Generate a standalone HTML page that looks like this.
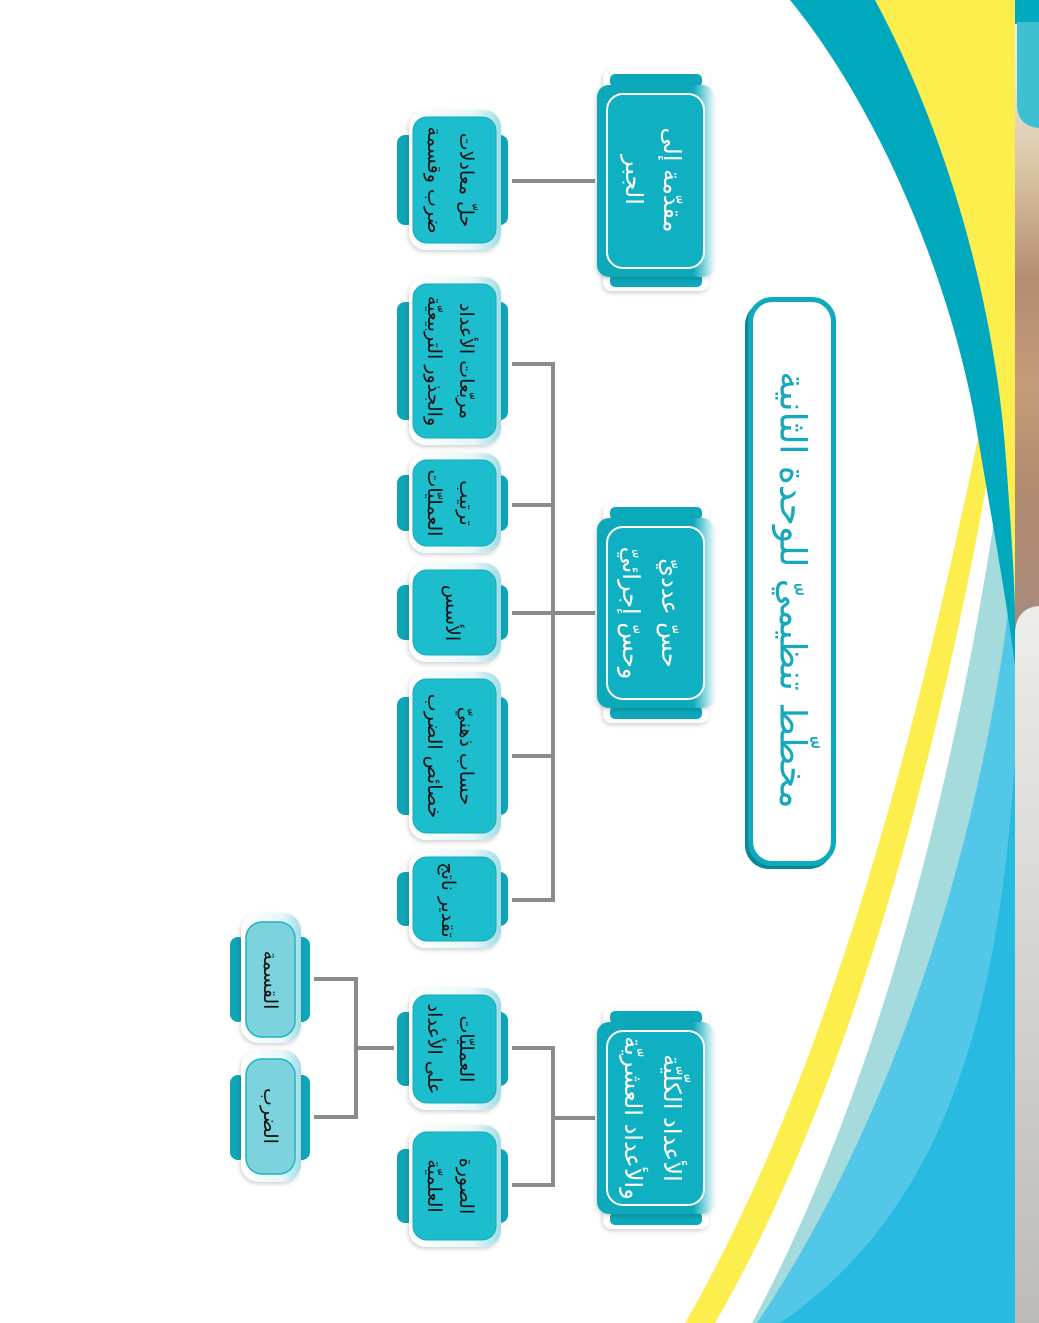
<!DOCTYPE html>
<html><head><meta charset="utf-8">
<style>
html,body{margin:0;padding:0;background:#fff;}
svg{display:block;}
text{font-family:"DejaVu Sans","Liberation Sans",sans-serif;}
</style></head>
<body>
<svg width="1039" height="1323" viewBox="0 0 1039 1323" xmlns="http://www.w3.org/2000/svg">
<defs>
<linearGradient id="gray" x1="0" y1="0" x2="0" y2="1">
<stop offset="0" stop-color="#ededea"/><stop offset="1" stop-color="#bcbbb7"/>
</linearGradient>
<linearGradient id="photo" x1="0" y1="0" x2="0" y2="1">
<stop offset="0" stop-color="#e8e0d0"/><stop offset="0.15" stop-color="#d9c4a4"/>
<stop offset="0.35" stop-color="#b48c74"/><stop offset="0.55" stop-color="#c49c78"/>
<stop offset="0.75" stop-color="#b08a70"/><stop offset="1" stop-color="#a88a7c"/>
</linearGradient>
<linearGradient id="mainG" x1="0" y1="0" x2="1" y2="0">
<stop offset="0" stop-color="#0aa8ba"/><stop offset="0.82" stop-color="#0aa8ba"/>
<stop offset="1" stop-color="#eaf9fb"/>
</linearGradient>
<linearGradient id="rim" x1="0" y1="0" x2="1" y2="0">
<stop offset="0" stop-color="#ffffff"/><stop offset="0.7" stop-color="#e6f7f9"/>
<stop offset="1" stop-color="#9edde5"/>
</linearGradient>
<filter id="sh" x="-20%" y="-20%" width="140%" height="140%">
<feDropShadow dx="-1" dy="2" stdDeviation="2" flood-color="#000" flood-opacity="0.18"/>
</filter>
</defs>

<!-- background stripes -->
<path d="M1000,330 C950,580 860,1020 685,1323 L1015,1323 L1015,330 Z" fill="#fcee4c"/>
<path d="M1012,330 C975,580 890,1020 715,1323 L1015,1323 L1015,330 Z" fill="#ffffff"/>
<path d="M1015,360 C990,600 915,1020 752,1323 L1015,1323 Z" fill="#a5dbdc"/>
<path d="M1015,540 C1005,700 940,1050 757,1323 L1015,1323 Z" fill="#52c7e8"/>
<path d="M1015,760 C1000,980 960,1200 780,1323 L1015,1323 Z" fill="#29bae1"/>
<!-- top yellow -->
<path d="M875,0 C945,130 995,300 1006,460 C1012,540 1015,590 1015,620 L1015,0 Z" fill="#fcee4c"/>
<!-- teal band -->
<path d="M790,0 L875,0 C945,130 995,300 1006,460 C1012,540 1015,590 1015,620 L1015,665 C1005,590 990,510 975,420 C950,280 880,110 790,0 Z" fill="#00a8bd"/>

<!-- right strip -->
<rect x="1015" y="0" width="24" height="1323" fill="url(#gray)"/>
<rect x="1015" y="90" width="24" height="540" fill="url(#photo)"/>
<path d="M1015,1323 L1015,635 Q1015,608 1039,606 L1039,1323 Z" fill="url(#gray)"/>
<rect x="1015" y="0" width="24" height="24" fill="#00a9be"/>
<path d="M1017,22 L1039,22 L1039,128 Q1017,126 1017,104 Z" fill="#3fc0d0"/>

<!-- title -->
<rect x="745" y="301" width="88" height="568" rx="24" fill="#0a8795"/>
<rect x="750.5" y="299.5" width="83" height="564" rx="22" fill="#fff" stroke="#0faabc" stroke-width="5"/>
<text transform="translate(792,590) rotate(90)" text-anchor="middle" dominant-baseline="central" direction="rtl" font-size="36" fill="#14a9bc">مخطّط تنظيميّ للوحدة الثانية</text>

<!-- connectors -->
<g stroke="#8b8b8d" stroke-width="4" fill="none">
<line x1="512" y1="181" x2="595" y2="181"/>
<line x1="553" y1="613" x2="595" y2="613"/>
<line x1="553" y1="362" x2="553" y2="902"/>
<line x1="512" y1="364" x2="555" y2="364"/>
<line x1="512" y1="505" x2="553" y2="505"/>
<line x1="512" y1="613" x2="553" y2="613"/>
<line x1="512" y1="756" x2="553" y2="756"/>
<line x1="512" y1="900" x2="555" y2="900"/>
<line x1="553" y1="1118" x2="595" y2="1118"/>
<line x1="553" y1="1046" x2="553" y2="1187"/>
<line x1="512" y1="1048" x2="555" y2="1048"/>
<line x1="512" y1="1185" x2="555" y2="1185"/>
<line x1="356" y1="1048" x2="394" y2="1048"/>
<line x1="356" y1="977" x2="356" y2="1119"/>
<line x1="314" y1="979" x2="358" y2="979"/>
<line x1="314" y1="1117" x2="358" y2="1117"/>
</g>

<!-- main boxes -->
<g filter="url(#sh)">
<rect x="603" y="70" width="106" height="22" rx="9" fill="#fff"/>
<rect x="603" y="269" width="106" height="22" rx="9" fill="#fff"/>
<rect x="603" y="503" width="106" height="22" rx="9" fill="#fff"/>
<rect x="603" y="701" width="106" height="22" rx="9" fill="#fff"/>
<rect x="603" y="1007" width="106" height="22" rx="9" fill="#fff"/>
<rect x="603" y="1207" width="106" height="22" rx="9" fill="#fff"/>
</g>
<g fill="#0ba9bb">
<rect x="610" y="74" width="92" height="13" rx="5"/>
<rect x="610" y="274" width="92" height="13" rx="5"/>
<rect x="610" y="507" width="92" height="13" rx="5"/>
<rect x="610" y="706" width="92" height="13" rx="5"/>
<rect x="610" y="1011" width="92" height="13" rx="5"/>
<rect x="610" y="1212" width="92" height="13" rx="5"/>
</g>
<g filter="url(#sh)">
<rect x="597" y="85" width="117" height="192" rx="12" fill="url(#mainG)"/>
<rect x="597" y="518" width="117" height="190" rx="12" fill="url(#mainG)"/>
<rect x="597" y="1022" width="117" height="192" rx="12" fill="url(#mainG)"/>
</g>
<g fill="#0fb0c1" stroke="#fff" stroke-width="2">
<rect x="607" y="94" width="97" height="174" rx="16"/>
<rect x="607" y="527" width="97" height="172" rx="16"/>
<rect x="607" y="1031" width="97" height="174" rx="16"/>
</g>
<g fill="#fff" font-size="24" text-anchor="middle" dominant-baseline="central" direction="rtl">
<text transform="translate(672,180) rotate(90)">مقدّمة إلى</text>
<text transform="translate(634,180) rotate(90)">الجبر</text>
<text transform="translate(670,613) rotate(90)">حسّ عدديّ</text>
<text transform="translate(631,613) rotate(90)">وحسّ إجرائيّ</text>
<text transform="translate(672,1118) rotate(90)">الأعداد الكلّيّة</text>
<text transform="translate(633,1118) rotate(90)">والأعداد العشريّة</text>
</g>

<!-- sub boxes -->
<g fill="#0ea6b7">
<rect x="397" y="135" width="18" height="90" rx="8"/><rect x="490" y="135" width="18" height="90" rx="8"/>
<rect x="397" y="302" width="18" height="118" rx="8"/><rect x="490" y="302" width="18" height="118" rx="8"/>
<rect x="397" y="475" width="18" height="56" rx="8"/><rect x="490" y="475" width="18" height="56" rx="8"/>
<rect x="397" y="585" width="18" height="55" rx="8"/><rect x="490" y="585" width="18" height="55" rx="8"/>
<rect x="397" y="697" width="18" height="118" rx="8"/><rect x="490" y="697" width="18" height="118" rx="8"/>
<rect x="397" y="872" width="18" height="54" rx="8"/><rect x="490" y="872" width="18" height="54" rx="8"/>
<rect x="397" y="1012" width="18" height="74" rx="8"/><rect x="490" y="1012" width="18" height="74" rx="8"/>
<rect x="397" y="1149" width="18" height="74" rx="8"/><rect x="490" y="1149" width="18" height="74" rx="8"/>
<rect x="230" y="937" width="16" height="85" rx="8"/><rect x="294" y="937" width="16" height="85" rx="8"/>
<rect x="230" y="1075" width="16" height="85" rx="8"/><rect x="294" y="1075" width="16" height="85" rx="8"/>
</g>
<g fill="url(#rim)" filter="url(#sh)">
<rect x="409" y="110" width="92" height="140" rx="17"/>
<rect x="409" y="277" width="92" height="168" rx="17"/>
<rect x="409" y="453" width="92" height="100" rx="17"/>
<rect x="409" y="563" width="92" height="99" rx="17"/>
<rect x="409" y="672" width="92" height="168" rx="17"/>
<rect x="409" y="850" width="92" height="98" rx="17"/>
<rect x="409" y="988" width="92" height="122" rx="17"/>
<rect x="409" y="1125" width="92" height="122" rx="17"/>
<rect x="241" y="913" width="60" height="130" rx="18"/>
<rect x="241" y="1050" width="60" height="132" rx="18"/>
</g>
<g fill="#1cbdcc" stroke="#12aabb" stroke-width="1">
<rect x="413" y="117" width="83" height="126" rx="14"/>
<rect x="413" y="284" width="83" height="154" rx="14"/>
<rect x="413" y="460" width="83" height="86" rx="14"/>
<rect x="413" y="570" width="83" height="85" rx="14"/>
<rect x="413" y="679" width="83" height="154" rx="14"/>
<rect x="413" y="857" width="83" height="84" rx="14"/>
<rect x="413" y="995" width="83" height="108" rx="14"/>
<rect x="413" y="1132" width="83" height="108" rx="14"/>
</g>
<g fill="#7dd3dd" stroke="#1fb3c3" stroke-width="1.5">
<rect x="246" y="922" width="49" height="115" rx="16"/>
<rect x="246" y="1059" width="49" height="115" rx="16"/>
</g>
<g fill="#111" font-size="19" text-anchor="middle" dominant-baseline="central" direction="rtl">
<text transform="translate(466,180) rotate(90)">حلّ معادلات</text>
<text transform="translate(434,180) rotate(90)">ضرب وقسمة</text>
<text transform="translate(466,361) rotate(90)">مربّعات الأعداد</text>
<text transform="translate(434,361) rotate(90)">والجذور التربيعيّة</text>
<text transform="translate(466,503) rotate(90)">ترتيب</text>
<text transform="translate(434,503) rotate(90)">العمليّات</text>
<text transform="translate(452,613) rotate(90)">الأسس</text>
<text transform="translate(466,756) rotate(90)">حساب ذهنيّ</text>
<text transform="translate(434,756) rotate(90)">خصائص الضرب</text>
<text transform="translate(448,900) rotate(90)">تقدير ناتج</text>
<text transform="translate(466,1049) rotate(90)">العمليّات</text>
<text transform="translate(434,1049) rotate(90)">على الأعداد</text>
<text transform="translate(466,1186) rotate(90)">الصورة</text>
<text transform="translate(434,1186) rotate(90)">العلميّة</text>
<text transform="translate(270,980) rotate(90)">القسمة</text>
<text transform="translate(270,1116) rotate(90)">الضرب</text>
</g>
</svg>
</body></html>
